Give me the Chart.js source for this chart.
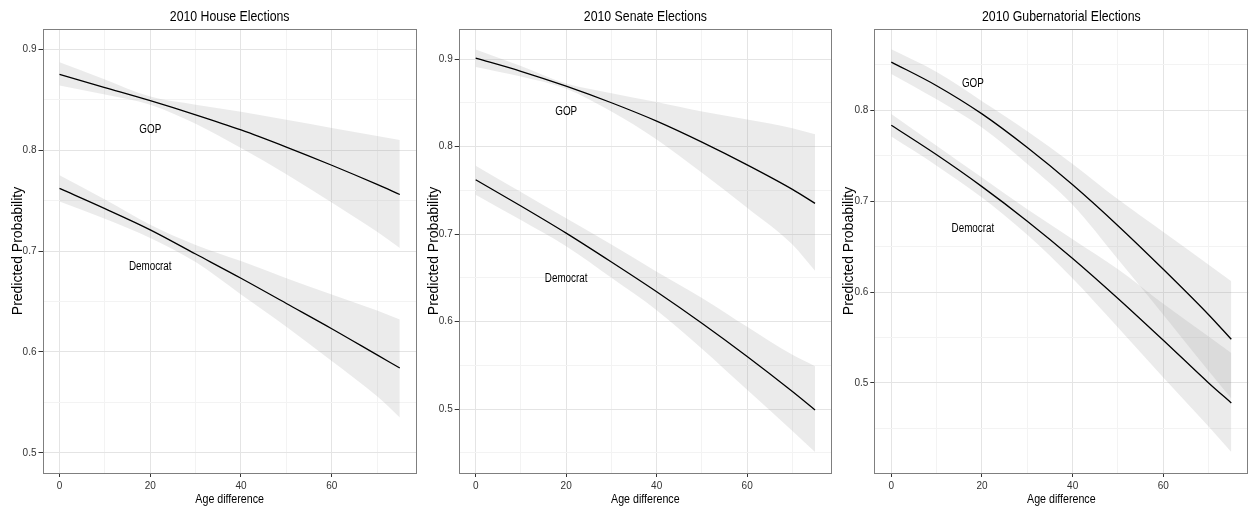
<!DOCTYPE html>
<html><head><meta charset="utf-8">
<script src="https://cdn.jsdelivr.net/npm/chart.js@4.4.1/dist/chart.umd.min.js"></script>
<style>
html,body{margin:0;padding:0;background:#fff;width:1249px;height:512px;overflow:hidden;}
canvas{position:absolute;top:0;}
</style></head><body>
<canvas id="c1" width="418" height="512" style="left:0px"></canvas>
<canvas id="c2" width="418" height="512" style="left:416px"></canvas>
<canvas id="c3" width="418" height="512" style="left:831px"></canvas>
<script>
// ---------- data ----------
const ages = [0, 10, 20, 30, 40, 50, 60, 70, 75];
const seriesNames = ['GOP', 'Democrat'];

const houseGopFit   = [0.875, 0.862, 0.849, 0.835, 0.820, 0.803, 0.785, 0.766, 0.756];
const houseGopUpper = [0.887, 0.870, 0.853, 0.845, 0.838, 0.830, 0.822, 0.814, 0.810];
const houseGopLower = [0.864, 0.855, 0.845, 0.826, 0.802, 0.776, 0.748, 0.719, 0.703];
const houseDemFit   = [0.762, 0.742, 0.721, 0.697, 0.673, 0.648, 0.623, 0.597, 0.584];
const houseDemUpper = [0.775, 0.751, 0.726, 0.706, 0.690, 0.673, 0.657, 0.641, 0.632];
const houseDemLower = [0.749, 0.732, 0.713, 0.689, 0.657, 0.625, 0.591, 0.556, 0.535];

const senateGopFit   = [0.901, 0.886, 0.869, 0.850, 0.829, 0.805, 0.779, 0.751, 0.735];
const senateGopUpper = [0.911, 0.892, 0.872, 0.861, 0.851, 0.840, 0.831, 0.821, 0.814];
const senateGopLower = [0.891, 0.880, 0.866, 0.840, 0.808, 0.770, 0.730, 0.688, 0.658];
const senateDemFit   = [0.762, 0.732, 0.701, 0.668, 0.634, 0.598, 0.560, 0.520, 0.499];
const senateDemUpper = [0.778, 0.748, 0.718, 0.688, 0.657, 0.627, 0.594, 0.562, 0.549];
const senateDemLower = [0.745, 0.716, 0.686, 0.650, 0.613, 0.569, 0.522, 0.475, 0.451];

const govGopFit   = [0.853, 0.827, 0.796, 0.759, 0.718, 0.673, 0.625, 0.575, 0.548];
const govGopUpper = [0.867, 0.842, 0.810, 0.777, 0.741, 0.702, 0.666, 0.630, 0.612];
const govGopLower = [0.840, 0.812, 0.781, 0.741, 0.696, 0.636, 0.575, 0.513, 0.483];
const govDemFit   = [0.7835, 0.751, 0.716, 0.678, 0.637, 0.593, 0.547, 0.500, 0.478];
const govDemUpper = [0.796, 0.761, 0.726, 0.691, 0.658, 0.625, 0.587, 0.551, 0.533];
const govDemLower = [0.771, 0.739, 0.704, 0.663, 0.615, 0.561, 0.506, 0.452, 0.424];

const panelTitles = ['2010 House Elections', '2010 Senate Elections', '2010 Gubernatorial Elections'];
const xAxisTitle = 'Age difference';
const yAxisTitle = 'Predicted Probability';

const xTickValues = [0, 20, 40, 60];
const xTickLabels = ['0', '20', '40', '60'];
const xMinorValues = [10, 30, 50, 70];
const xRange = [-3.75, 78.75];

const houseYTicks = [0.5, 0.6, 0.7, 0.8, 0.9];
const houseYLabels = ['0.5', '0.6', '0.7', '0.8', '0.9'];
const houseYMinor = [0.55, 0.65, 0.75, 0.85];
const houseYRange = [0.48, 0.92];

const senateYTicks = [0.5, 0.6, 0.7, 0.8, 0.9];
const senateYLabels = ['0.5', '0.6', '0.7', '0.8', '0.9'];
const senateYMinor = [0.45, 0.55, 0.65, 0.75, 0.85];
const senateYRange = [0.4269, 0.9343];

const govYTicks = [0.5, 0.6, 0.7, 0.8];
const govYLabels = ['0.5', '0.6', '0.7', '0.8'];
const govYMinor = [0.45, 0.55, 0.65, 0.75, 0.85];
const govYRange = [0.4009, 0.8894];

// in-plot text labels (data coordinates)
const houseLabelX = [20, 20];   const houseLabelY = [0.820, 0.684];
const senateLabelX = [20, 20];  const senateLabelY = [0.840, 0.649];
const govLabelX = [18, 18];     const govLabelY = [0.829, 0.670];

// ---------- styling ----------
const REGULAR = '"Liberation Sans", Arial, sans-serif';
const BAND = 'rgba(153,153,153,0.2)';

// pick a narrow font if one is installed, otherwise compress Liberation Sans
const NARROW_INFO = (() => {
  const c = document.createElement('canvas').getContext('2d');
  const probe = '2010 House Elections Age difference';
  c.font = '40px monospace';
  const base = c.measureText(probe).width;
  const cands = ['Liberation Sans Narrow', 'Arial Narrow', 'Nimbus Sans Narrow', 'Helvetica Condensed'];
  for (const f of cands) {
    c.font = '40px "' + f + '", monospace';
    if (Math.abs(c.measureText(probe).width - base) > 0.5) return {family: '"' + f + '", ' + REGULAR, sx: 1, tick: 11};
  }
  return {family: REGULAR, sx: 0.82, tick: 10};
})();

const pts = arr => ages.map((a, i) => ({x: a, y: arr[i]}));
const tickSet = (major, minor) => major.concat(minor).sort((a, b) => a - b);
const isIn = (v, list) => list.some(t => Math.abs(t - v) < 1e-9);

function narrowText(ctx, text, x, y, size, baseline) {
  ctx.save();
  ctx.font = size + 'px ' + NARROW_INFO.family;
  ctx.textAlign = 'center';
  ctx.textBaseline = baseline;
  ctx.translate(x, y);
  ctx.scale(NARROW_INFO.sx, 1);
  ctx.fillText(text, 0, 0);
  ctx.restore();
}

const decor = {
  id: 'decor',
  afterDraw(chart, args, o) {
    const {ctx, chartArea: a, scales} = chart;
    ctx.save();
    ctx.strokeStyle = '#7f7f7f';
    ctx.lineWidth = 1;
    ctx.strokeRect(Math.round(a.left) + 0.5, Math.round(a.top) + 0.5,
                   Math.round(a.right) - Math.round(a.left) - 1, Math.round(a.bottom) - Math.round(a.top));
    ctx.fillStyle = '#000';
    const cx = (a.left + a.right) / 2;
    narrowText(ctx, o.title, cx, 20.7, 15, 'alphabetic');
    narrowText(ctx, o.xTitle, cx, 502.5, 13, 'alphabetic');
    o.names.forEach((n, i) => {
      narrowText(ctx, n, scales.x.getPixelForValue(o.lx[i]), scales.y.getPixelForValue(o.ly[i]), 12, 'middle');
    });
    ctx.restore();
  }
};

function makePanel(id, title, yW, padRight, yTicks, yLabels, yMinor, yRange,
                   gopFit, gopUp, gopLo, demFit, demUp, demLo, lx, ly) {
  const band = (arr, fill) => ({data: pts(arr), borderWidth: 0, pointRadius: 0,
      backgroundColor: BAND, fill: fill, cubicInterpolationMode: 'monotone'});
  const line = arr => ({data: pts(arr), borderColor: '#000', borderWidth: 1.3, pointRadius: 0,
      fill: false, cubicInterpolationMode: 'monotone'});
  const xAll = tickSet(xTickValues, xMinorValues);
  const yAll = tickSet(yTicks, yMinor);
  const tickFont = {family: REGULAR, size: NARROW_INFO.tick};
  new Chart(document.getElementById(id), {
    type: 'line',
    data: {datasets: [
      band(gopUp, '+1'), band(gopLo, false),
      band(demUp, '+1'), band(demLo, false),
      line(gopFit), line(demFit)
    ]},
    plugins: [decor],
    options: {
      responsive: false, animation: false, events: [],
      layout: {padding: {top: 29, left: 0, right: padRight, bottom: 0}},
      plugins: {
        legend: {display: false}, tooltip: {enabled: false},
        filler: {drawTime: 'beforeDatasetsDraw'},
        decor: {title: title, xTitle: xAxisTitle, names: seriesNames, lx: lx, ly: ly}
      },
      scales: {
        x: {
          type: 'linear', min: xRange[0], max: xRange[1],
          afterBuildTicks: s => { s.ticks = xAll.map(v => ({value: v})); },
          afterFit: s => { s.height = 39; },
          ticks: {
            autoSkip: false, maxRotation: 0, padding: 3, color: '#333', font: tickFont,
            callback: v => { const k = xTickValues.findIndex(t => Math.abs(t - v) < 1e-9); return k >= 0 ? xTickLabels[k] : ''; }
          },
          grid: {
            color: c => isIn(c.tick ? c.tick.value : NaN, xTickValues) ? '#e4e4e4' : '#f3f3f3',
            tickColor: c => isIn(c.tick ? c.tick.value : NaN, xTickValues) ? '#333' : 'rgba(0,0,0,0)',
            lineWidth: 1, tickLength: 4, drawTicks: true
          },
          border: {display: false},
          title: {display: false}
        },
        y: {
          type: 'linear', min: yRange[0], max: yRange[1],
          afterBuildTicks: s => { s.ticks = yAll.map(v => ({value: v})); },
          afterFit: s => { s.width = yW; },
          ticks: {
            autoSkip: false, padding: 2, color: '#333', font: tickFont,
            callback: v => { const k = yTicks.findIndex(t => Math.abs(t - v) < 1e-9); return k >= 0 ? yLabels[k] : ''; }
          },
          grid: {
            color: c => isIn(c.tick ? c.tick.value : NaN, yTicks) ? '#e4e4e4' : '#f3f3f3',
            tickColor: c => isIn(c.tick ? c.tick.value : NaN, yTicks) ? '#333' : 'rgba(0,0,0,0)',
            lineWidth: 1, tickLength: 4, drawTicks: true
          },
          border: {display: false},
          title: {display: true, text: yAxisTitle, color: '#000',
                  font: {family: REGULAR, size: 14}, padding: {top: 10, bottom: 0}}
        }
      }
    }
  });
}

makePanel('c1', panelTitles[0], 42.5, 1.2, houseYTicks, houseYLabels, houseYMinor, houseYRange,
  houseGopFit, houseGopUpper, houseGopLower, houseDemFit, houseDemUpper, houseDemLower, houseLabelX, houseLabelY);
makePanel('c2', panelTitles[1], 42.7, 2, senateYTicks, senateYLabels, senateYMinor, senateYRange,
  senateGopFit, senateGopUpper, senateGopLower, senateDemFit, senateDemUpper, senateDemLower, senateLabelX, senateLabelY);
makePanel('c3', panelTitles[2], 43.3, 0.7, govYTicks, govYLabels, govYMinor, govYRange,
  govGopFit, govGopUpper, govGopLower, govDemFit, govDemUpper, govDemLower, govLabelX, govLabelY);
</script>
</body></html>
